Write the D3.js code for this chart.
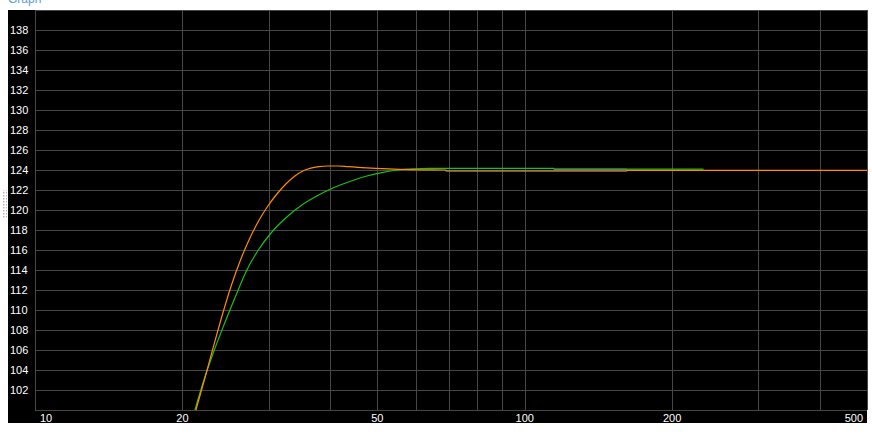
<!DOCTYPE html>
<html>
<head>
<meta charset="utf-8">
<script src="https://cdn.jsdelivr.net/npm/d3@7"></script>
<style>
  body { margin: 0; background: #fff; }
  svg { display: block; font-family: "Liberation Sans", Arial, sans-serif; }
</style>
</head>
<body>
<svg id="chart" width="872" height="435"></svg>
<script>
// tick labels and grid positions
const xTickLabels = [10, 20, 50, 100, 200, 500];
const xGridValues = [10, 20, 30, 40, 50, 60, 70, 80, 90, 100, 200, 300, 400, 500];
const yTickLabels = [102, 104, 106, 108, 110, 112, 114, 116, 118, 120, 122, 124, 126, 128, 130, 132, 134, 136, 138];
const yGridValues = [100, 102, 104, 106, 108, 110, 112, 114, 116, 118, 120, 122, 124, 126, 128, 130, 132, 134, 136, 138, 140];

// orange series
const orangeX = [21.31, 22.23, 23.19, 24.19, 25.23, 26.33, 27.47, 28.65, 29.89, 31.19, 32.53, 33.94, 35.24,
  36.58, 37.98, 39.62, 41.53, 43.54, 45.63, 49.65, 55.34, 61.07, 69.0, 69.05, 161.5, 161.6, 500];
const orangeY = [100, 103.2, 106.5, 109.7, 112.6, 115.1, 117.2, 118.95, 120.4, 121.6, 122.6, 123.4, 123.9,
  124.18, 124.33, 124.4, 124.4, 124.34, 124.27, 124.17, 124.07, 124.02, 124.0, 123.9, 123.9, 123.97, 123.97];

// green series
const greenX = [21.21, 22.13, 23.08, 24.31, 25.59, 27.08, 28.58, 30.46, 32.68, 35.07, 37.63, 40.37,
  43.95, 47.6, 51.33, 55.07, 59.07, 63.99, 114.6, 114.7, 231.9];
const greenY = [100, 103, 105.6, 108.5, 111.2, 114, 116, 117.8, 119.3, 120.5, 121.4, 122.15,
  122.85, 123.4, 123.77, 124.0, 124.12, 124.17, 124.17, 124.08, 124.08];

// gray overlay segments
const grayLowX = [69.05, 161.5];
const grayLowY = [123.9, 123.9];
const grayHighX = [114.7, 161.5];
const grayHighY = [124.08, 124.08];

const svg = d3.select("#chart");
const margin = { left: 35, top: 10, right: 867, bottom: 410 };

const x = d3.scaleLog().domain([10, 500]).range([margin.left, margin.right]);
const y = d3.scaleLinear().domain([100, 140]).range([margin.bottom, margin.top]);

// title (cut off at top)
svg.append("text")
  .attr("x", 8).attr("y", 3)
  .attr("fill", "#5b9bd5")
  .attr("font-size", 12)
  .text("Graph");

// splitter grip
const defs = svg.append("defs");
defs.append("pattern")
  .attr("id", "grip").attr("width", 3).attr("height", 3)
  .attr("patternUnits", "userSpaceOnUse")
  .append("rect").attr("width", 1.5).attr("height", 1.5).attr("fill", "#b8b8b8");
svg.append("rect")
  .attr("x", 2).attr("y", 190).attr("width", 5).attr("height", 28)
  .attr("fill", "url(#grip)");

// black panel
svg.append("rect")
  .attr("x", 8).attr("y", 10)
  .attr("width", 859).attr("height", 413)
  .attr("fill", "#000");

// grid
const grid = svg.append("g").attr("stroke", "#474747").attr("stroke-width", 1);
grid.selectAll("line.v").data(xGridValues).join("line")
  .attr("class", "v")
  .attr("x1", d => Math.round(x(d)) + 0.5).attr("x2", d => Math.round(x(d)) + 0.5)
  .attr("y1", margin.top).attr("y2", margin.bottom);
grid.selectAll("line.h").data(yGridValues).join("line")
  .attr("class", "h")
  .attr("x1", margin.left).attr("x2", margin.right)
  .attr("y1", d => Math.round(y(d)) + 0.5).attr("y2", d => Math.round(y(d)) + 0.5);

// y labels
svg.append("g").selectAll("text").data(yTickLabels).join("text")
  .attr("x", 10)
  .attr("y", d => y(d))
  .attr("dy", "0.36em")
  .attr("fill", "#fff")
  .attr("font-size", 11)
  .text(d => d);

// x labels
svg.append("g").selectAll("text").data(xTickLabels).join("text")
  .attr("x", (d, i) => i === 0 ? x(d) + 5 : i === xTickLabels.length - 1 ? x(d) - 4 : x(d))
  .attr("y", 418)
  .attr("dy", "0.36em")
  .attr("text-anchor", (d, i) => i === 0 ? "start" : i === xTickLabels.length - 1 ? "end" : "middle")
  .attr("fill", "#fff")
  .attr("font-size", 11)
  .text(d => d);

const line = d3.line()
  .x(d => x(d[0]))
  .y(d => y(d[1]))
  .curve(d3.curveMonotoneX);

const zip = (xs, ys) => xs.map((v, i) => [v, ys[i]]);

const plot = svg.append("g");
plot.append("path")
  .datum(zip(greenX, greenY))
  .attr("fill", "none").attr("stroke", "#19c019").attr("stroke-width", 1.2)
  .attr("d", line);
plot.append("path")
  .datum(zip(orangeX, orangeY))
  .attr("fill", "none").attr("stroke", "#ff8c00").attr("stroke-width", 1.2)
  .attr("d", line);
[zip(grayLowX, grayLowY), zip(grayHighX, grayHighY)].forEach(seg => {
  plot.append("path")
    .datum(seg)
    .attr("fill", "none").attr("stroke", "#9a9a9a").attr("stroke-opacity", 0.5).attr("stroke-width", 1.2)
    .attr("d", line);
});
</script>
</body>
</html>
